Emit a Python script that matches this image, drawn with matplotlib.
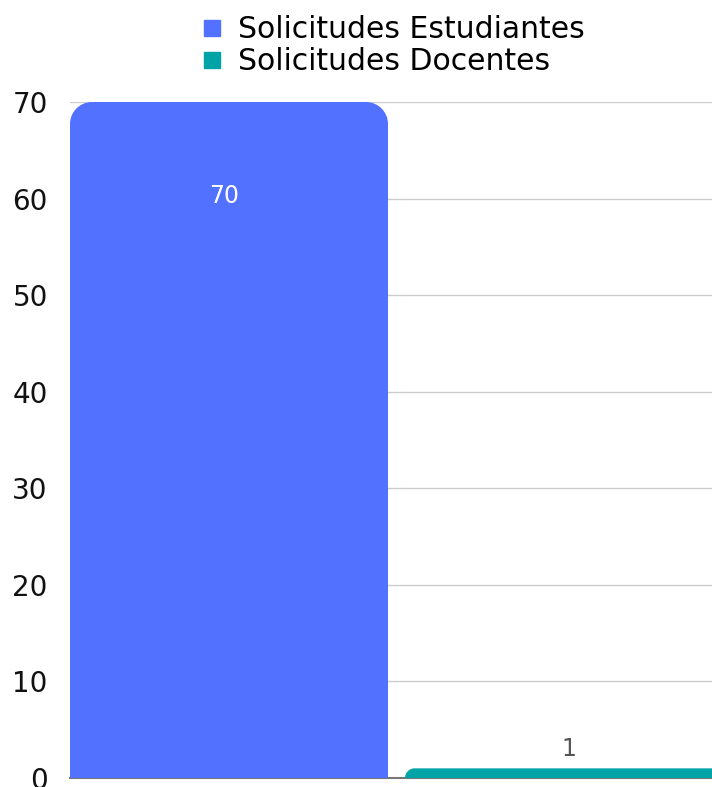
import matplotlib.pyplot as plt
from matplotlib.path import Path
from matplotlib.patches import PathPatch
from matplotlib.lines import Line2D

# datos
series = ['Solicitudes Estudiantes', 'Solicitudes Docentes']
valores = [70, 1]
colores = ['#5271FF', '#00A4A6']
y_ticks = [0, 10, 20, 30, 40, 50, 60, 70]

plt.rcParams['font.family'] = ['DejaVu Sans']

W, H = 712, 787
fig = plt.figure(figsize=(W / 100, H / 100), dpi=100)
ax = fig.add_axes([70 / W, 9 / H, 1 - 70 / W, 676 / H])

ax.set_xlim(-0.4746, 1.4418)
ax.set_ylim(0, 70)

px_x = 335.0          # pixeles por unidad x
px_y = 676.0 / 70     # pixeles por unidad y
ancho = 318 / 335


def barra_redondeada(x, h, r_px, color):
    """Barra con esquinas superiores redondeadas (radio en pixeles)."""
    ry = min(r_px / px_y, h)
    rx = min(r_px, ry * px_y) / px_x
    x0, x1 = x - ancho / 2, x + ancho / 2
    k = 0.5523
    verts = [
        (x0, 0), (x0, h - ry),
        (x0, h - ry + k * ry), (x0 + rx - k * rx, h), (x0 + rx, h),
        (x1 - rx, h),
        (x1 - rx + k * rx, h), (x1, h - ry + k * ry), (x1, h - ry),
        (x1, 0), (x0, 0),
    ]
    codes = [Path.MOVETO, Path.LINETO,
             Path.CURVE4, Path.CURVE4, Path.CURVE4,
             Path.LINETO,
             Path.CURVE4, Path.CURVE4, Path.CURVE4,
             Path.LINETO, Path.CLOSEPOLY]
    ax.add_patch(PathPatch(Path(verts, codes), facecolor=color, edgecolor='none', zorder=3))


for i, (v, c) in enumerate(zip(valores, colores)):
    barra_redondeada(i, v, 22, c)

# etiquetas de valor
ax.text(-0.015, valores[0] - 10 * 0.97, str(valores[0]), color='white', ha='center', va='center',
        fontsize=17, zorder=4)
ax.annotate(str(valores[1]), (1.015, valores[1]), xytext=(0, 14), textcoords='offset points',
            color='#555555', ha='center', va='center', fontsize=17)

ax.set_yticks(y_ticks)
ax.set_yticklabels([str(t) for t in y_ticks], fontsize=20, color='#111111')
ax.tick_params(axis='y', length=0, pad=16)
ax.set_xticks([])
ax.grid(True, axis='y', color='#cccccc', linewidth=1, zorder=0)
for s in ['top', 'right', 'left']:
    ax.spines[s].set_visible(False)
ax.spines['bottom'].set_color('#777777')
ax.spines['bottom'].set_linewidth(1.5)

handles = [Line2D([], [], marker='s', linestyle='none', markersize=12, color=c) for c in colores]
fig.legend(handles, series, loc='upper center', bbox_to_anchor=(0.549, 1.015), frameon=False,
           fontsize=21.5, handletextpad=0.35, labelspacing=0.1, handlelength=1.0)

plt.savefig('out.png', dpi=100)
